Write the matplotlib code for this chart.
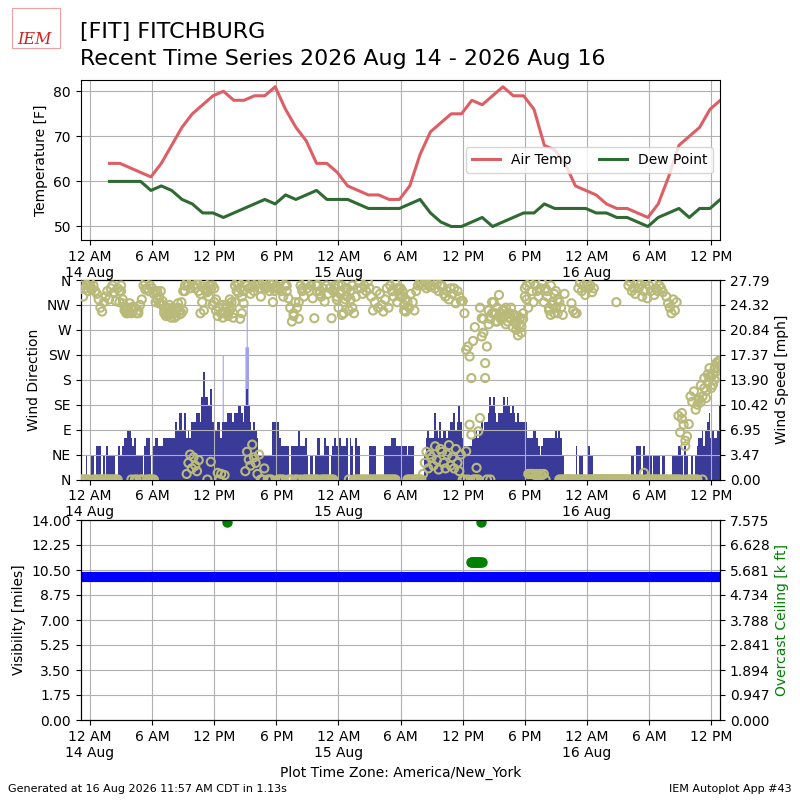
import matplotlib
matplotlib.use("Agg")
import matplotlib.pyplot as plt
import matplotlib.dates as mdates
import matplotlib.ticker as mticker
from matplotlib.patches import Rectangle
import numpy as np
import pandas as pd

# ---------------- data ----------------
temp_start = "2026-08-14 01:53"          # hourly observations
temp_f = [64, 64, 63, 62, 61, 64, 68, 72, 75, 77, 79, 80, 78, 78, 79, 79, 81, 76, 72, 69,
          64, 64, 62, 59, 58, 57, 57, 56, 56, 59, 66, 71, 73, 75, 75, 78, 77, 79, 81, 79,
          79, 76, 68, 67, 64, 59, 58, 57, 55, 54, 54, 53, 52, 55, 61, 68, 70, 72, 76, 78]
dewp_f = [60, 60, 60, 60, 58, 59, 58, 56, 55, 53, 53, 52, 53, 54, 55, 56, 55, 57, 56, 57,
          58, 56, 56, 56, 55, 54, 54, 54, 54, 55, 56, 53, 51, 50, 50, 51, 52, 50, 51, 52,
          53, 53, 55, 54, 54, 54, 54, 53, 53, 52, 52, 51, 50, 52, 53, 54, 52, 54, 54, 56]

wind_start = "2026-08-13 23:10"          # 10-minute samples
speed_kt = [
    3, 0, 0, 3, 0,
    0, 3, 3, 0, 4, 4,   4, 0, 3, 0, 4, 3,   3, 3, 3, 0, 0, 4,   3, 4, 5, 5, 6, 6,
    5, 4, 5, 3, 3, 3,   3, 0, 4, 5, 5, 3,   0, 4, 5, 5, 4, 4,   4, 5, 5, 5, 5, 5,
    5, 5, 7, 6, 8, 8,   6, 8, 5, 6, 5, 7,   7, 7, 8, 8, 7, 10,  13, 10, 10, 9, 11, 7,
    7, 6, 7, 7, 5, 7,   7, 7, 8, 8, 8, 7,   8, 8, 9, 9, 8, 7,   9, 11, 9, 7, 6, 7,
    6, 5, 3, 3, 3, 3,   3, 3, 3, 3, 7, 7,   6, 7, 5, 4, 4, 4,   4, 4, 0, 4, 4, 4,
    4, 6, 4, 4, 4, 5,   3, 0, 3, 3, 0, 3,   5, 5, 3, 3, 5, 4,   4, 0, 3, 4, 5, 4,
    4, 5, 4, 4, 4, 5,   0, 5, 4, 0, 5, 4,   4, 0, 0, 0, 0, 0,   4, 4, 4, 4, 0, 0,
    0, 0, 0, 4, 4, 4,   4, 5, 5, 5, 4, 4,   4, 4, 4, 4, 3, 4,   4, 4, 0, 0, 0, 0,
    0, 0, 3, 5, 6, 5,   5, 5, 8, 6, 5, 7,   5, 6, 6, 5, 6, 7,   7, 8, 6, 7, 9, 7,
    5, 4, 4, 4, 4, 4,   5, 5, 6, 5, 6, 7,   6, 7, 7, 8, 10, 9,  10, 8, 7, 8, 8, 8,
    10, 9, 10, 9, 8, 9, 8, 7, 8, 7, 7, 7,   7, 7, 5, 5, 5, 6,   6, 5, 4, 3, 4, 5,
    5, 5, 5, 5, 5, 5,   6, 5, 6, 5, 3, 0,   0, 0, 0, 0, 0, 0,   4, 0, 3, 3, 0, 0,
    0, 4, 3, 3, 0, 0,   0, 0, 0, 0, 0, 0,   0, 0, 0, 0, 0, 0,   0, 0, 0, 0, 0, 0,
    0, 0, 3, 3, 0, 4,   4, 4, 0, 4, 3, 3,   3, 3, 0, 3, 3, 3,   3, 0, 3, 3, 0, 0,
    0, 0, 3, 3, 3, 4,   4, 3, 0, 4, 3, 0,   0, 3, 0, 3, 4, 5,   5, 6, 4, 6, 7, 8,
    5, 6, 5, 5, 6, 9,
]
drct_a = [
    350, 330, 345, 352, 340,
    348, 342, 350, 340, 335, 325,  310, 303, 320, 330, 340, 325,  345, 350, 338, 322, 345, 340,
    340, 318, 305, 300, 310, 302,  300, 305, 310, 300, 305, 315,  325, 350, 355, 345, 340, 350,
    345, 335, 320, 340, 330, 318,  315, 305, 295, 310, 300, 292,  300, 292, 305, 310, 298, 320,
    305, 340, 355, 350, 345, 357,  350, 345, 352, 340, 335, 348,  355, 345, 338, 350, 343, 315,
    320, 305, 295, 310, 300, 292,  300, 310, 295, 305, 320, 300,  350, 340, 355, 345, 330, 340,
    355, 350, 345, 335, 350, 340,  350, 355, 345, 330, 357, 348,  355, 348, 340, 352, 320, 345,
    350, 345, 355, 340, 330, 350,  340, 327, 310, 285, 300, 320,  310, 290, 350, 345, 330, 355,
    345, 340, 350, 327, 291, 350,  351, 340, 330, 345, 321, 350,  335, 345, 291, 340, 350, 330,
    351, 340, 297, 320, 345, 330,  305, 340, 350, 300, 330, 345,  355, 345, 335, 350, 340, 357,
    345, 330, 305, 320, 340, 310,  335, 315, 303, 325, 345, 310,  350, 340, 330, 355, 345, 335,
    345, 330, 315, 303, 320, 310,  335, 320, 305, 340, 350, 355,  355, 350, 357, 345, 352, 348,
    350, 357, 345, 354, 340, 350,  350, 335, 330, 340, 325, 345,  335, 345, 318, 340, 330, 322,
    322, 300, 234, 240, 222, 183,  250, 275, 21, 87, 111, 291,    290, 183, 240, 305, 290, 320,
    300, 285, 310, 295, 290, 305,  295, 310, 285, 300, 290, 275,  285, 270, 295, 280, 265, 290,
    330, 350, 310, 354, 340, 320,  350, 340, 330, 345, 355, 320,  345, 330, 310, 297, 320, 335,
    340, 300, 320, 310, 297, 335,  0, 0, 0, 318, 305, 300,        300, 345, 355, 340, 350, 333,
    355, 345, 350, 338, 345, 0,    0, 0, 0, 0, 0, 0,              0, 0, 0, 0, 0, 320,
    0, 0, 0, 0, 0, 0,              350, 357, 340, 345, 335, 355,  345, 352, 330, 340, 357, 327,
    350, 340, 355, 333, 345, 340,  350, 345, 338, 0, 330, 318,    310, 300, 325, 305, 320, 115,
    85, 120, 99, 60, 78, 100,      150, 140, 159, 126, 135, 144,  170, 150, 183, 160, 175, 201,
    185, 171, 201, 195, 213, 205,
]
drct_b = [
    0, 0, 0, 0, 0,
    355, 345, 0, 0, 0, 0,          0, 0, 0, 0, 0, 0,              0, 0, 0, 0, 0, 320,
    350, 325, 312, 306, 300, 318,  0, 312, 0, 0, 300, 0,          0, 0, 343, 0, 0, 0,
    0, 0, 338, 325, 318, 340,      322, 300, 308, 296, 315, 305,  310, 300, 295, 318, 305, 300,
    340, 350, 10, 30, 45, 20,      40, 25, 15, 35, 300, 320,      305, 340, 0, 330, 32, 350,
    345, 325, 12, 0, 10, 315,      8, 315, 300, 325, 310, 292,    320, 355, 337, 290, 300, 318,
    15, 50, 36, 25, 63, 40,        30, 10, 45, 0, 0, 20,          345, 0, 0, 0, 355, 340,
    345, 0, 0, 0, 0, 350,          350, 0, 0, 0, 295, 0,          0, 320, 0, 340, 0, 0,
    0, 0, 0, 0, 0, 0,              0, 335, 0, 0, 0, 0,            0, 0, 0, 0, 345, 325,
    310, 335, 350, 300, 325, 345,  0, 325, 310, 0, 0, 0,          0, 0, 0, 0, 0, 0,
    0, 0, 0, 0, 0, 0,              0, 0, 0, 0, 0, 0,              0, 0, 0, 0, 320, 345,
    330, 340, 305, 325, 0, 0,      0, 0, 0, 0, 0, 0,              0, 10, 30, 50, 20, 45,
    40, 25, 60, 35, 18, 55,        50, 30, 20, 45, 62, 25,        40, 20, 55, 30, 15, 45,
    0, 0, 51, 0, 99, 81,           0, 0, 0, 0, 310, 258,          265, 210, 0, 280, 0, 300,
    320, 300, 285, 333, 300, 290,  305, 280, 300, 292, 310, 298,  297, 280, 260, 290, 275, 300,
    345, 325, 10, 10, 10, 10,      8, 10, 8, 10, 8, 10,           0, 340, 305, 350, 315, 300,
    310, 325, 0, 0, 0, 0,          0, 0, 0, 0, 0, 0,              0, 0, 0, 0, 0, 0,
    0, 0, 0, 0, 0, 0,              0, 0, 0, 0, 0, 0,              0, 0, 0, 0, 0, 0,
    0, 0, 0, 0, 0, 0,              0, 0, 0, 0, 0, 0,              0, 0, 0, 12, 0, 0,
    0, 0, 0, 0, 0, 0,              0, 0, 0, 0, 0, 0,              0, 0, 0, 0, 0, 0,
    0, 110, 0, 70, 0, 0,           0, 0, 0, 0, 0, 145,            140, 0, 165, 147, 190, 185,
    165, 190, 180, 210, 201, 215,
]
gust_time = ["2026-08-14 12:52", "2026-08-14 15:04", "2026-08-14 15:08",
             "2026-08-14 15:11", "2026-08-14 15:14", "2026-08-14 15:18"]
gust_kt = [15, 16, 16, 21, 16, 16]

vis_miles = [10.0, 10.0, 10.0, 10.0, 10.0, 10.0, 10.0, 10.0, 10.0, 10.0, 10.0, 10.0, 10.0,
             10.0, 10.0, 10.0, 10.0, 10.0, 10.0, 10.0, 10.0, 10.0, 10.0, 10.0, 10.0, 10.0,
             10.0, 10.0, 10.0, 10.0, 10.0, 10.0, 10.0, 10.0, 10.0, 10.0, 10.0, 10.0, 10.0,
             10.0, 10.0, 10.0, 10.0, 10.0, 10.0, 10.0, 10.0, 10.0, 10.0, 10.0, 10.0, 10.0,
             10.0, 10.0, 10.0, 10.0, 10.0, 10.0, 10.0, 10.0, 10.0, 10.0]
ceil_time = ["2026-08-14 13:13", "2026-08-15 12:48", "2026-08-15 12:54", "2026-08-15 13:00",
             "2026-08-15 13:06", "2026-08-15 13:12", "2026-08-15 13:18", "2026-08-15 13:24",
             "2026-08-15 13:30", "2026-08-15 13:36", "2026-08-15 13:42", "2026-08-15 13:50",
             "2026-08-15 13:45"]
ceil_kft = [7.5, 6.0, 6.0, 6.0, 6.0, 6.0, 6.0, 6.0, 6.0, 6.0, 6.0, 6.0, 7.5]

dir_labels = ["N", "NE", "E", "SE", "S", "SW", "W", "NW", "N"]

# ---------------- derived ----------------
KT2MPH = 1.15078
t_temp = pd.date_range(temp_start, periods=len(temp_f), freq="h")
t_wind = pd.date_range(wind_start, periods=len(speed_kt), freq="10min")
speed_mph = np.array(speed_kt) * KT2MPH
gust_mph = np.array(gust_kt) * KT2MPH
t_gust = pd.to_datetime(gust_time)
t_ceil = pd.to_datetime(ceil_time)
xmin = pd.Timestamp("2026-08-13 23:06")
xmax = pd.Timestamp("2026-08-16 12:51")
t_vis = pd.date_range(xmin, xmax, periods=len(vis_miles))

# ---------------- figure ----------------
fig = plt.figure(figsize=(8, 8), dpi=100)
L, W = 80.7 / 800, (720 - 80.7) / 800
ax_t = fig.add_axes([L, 0.70, W, 0.20])
ax_w = fig.add_axes([L, 1 - 479.5 / 800, W, 199.5 / 800])
ax_v = fig.add_axes([L, 0.10, W, 0.25])


def xfmt(x, pos=None):
    d = mdates.num2date(x)
    h12 = d.hour % 12 or 12
    lab = "%d %s" % (h12, "AM" if d.hour < 12 else "PM")
    if d.hour == 0:
        lab += "\n%d %s" % (d.day, d.strftime("%b"))
    return lab


for ax in (ax_t, ax_w, ax_v):
    ax.set_xlim(xmin, xmax)
    ax.xaxis.set_major_locator(mdates.HourLocator(byhour=[0, 6, 12, 18]))
    ax.xaxis.set_major_formatter(mticker.FuncFormatter(xfmt))
    ax.grid(True)

# temperature panel
ax_t.plot(t_temp, temp_f, color="#dd5f66", lw=2.2, label="Air Temp")
ax_t.plot(t_temp, dewp_f, color="#2f6a32", lw=2.2, label="Dew Point")
ax_t.set_ylim(47, 82.5)
ax_t.set_yticks([50, 60, 70, 80])
ax_t.set_ylabel("Temperature [F]")
ax_t.legend(loc="center right", ncol=2)

# wind panel
ax_ws = ax_w.twinx()
ax_ws.patch.set_visible(True)
ax_ws.patch.set_facecolor("white")
ax_ws.bar(t_gust, gust_mph, width=6 / 1440, color="#9c9cf4", linewidth=0,
          snap=False)
ax_ws.bar(t_wind, speed_mph, width=10 / 1440, color="#3a3a99", linewidth=0)
ymax = gust_mph.max() * 1.15
ax_ws.set_ylim(0, ymax)
ax_ws.set_yticks(np.linspace(0, ymax, 9))
ax_ws.yaxis.set_major_formatter(mticker.FormatStrFormatter("%.2f"))
ax_ws.set_ylabel("Wind Speed [mph]")
ax_w.set_zorder(ax_ws.get_zorder() + 1)
ax_w.patch.set_visible(False)
olive = "#b9ba7a"
ax_w.scatter(t_wind, drct_a, s=34, facecolors="none", edgecolors=olive,
             linewidths=1.5, zorder=3)
ax_w.scatter(t_wind, drct_b, s=34, facecolors="none", edgecolors=olive,
             linewidths=1.5, zorder=3)
ax_w.set_ylim(0, 360)
ax_w.set_yticks(np.arange(0, 361, 45))
ax_w.set_yticklabels(dir_labels)
ax_w.set_ylabel("Wind Direction")

# visibility panel
ax_v.plot(t_vis, vis_miles, color="blue", lw=7.3, solid_capstyle="butt")
ax_v.set_ylim(0, 14)
ax_v.set_yticks(np.linspace(0, 14, 9))
ax_v.yaxis.set_major_formatter(mticker.FormatStrFormatter("%.2f"))
ax_v.set_ylabel("Visibility [miles]")
ax_v.set_xlabel("Plot Time Zone: America/New_York")
ax_c = ax_v.twinx()
ax_c.plot(t_ceil, ceil_kft, "o", color="green", ms=6.5, linestyle="none")
cmax = max(ceil_kft) * 1.01
ax_c.set_ylim(0, cmax)
ax_c.set_yticks(np.linspace(0, cmax, 9))
ax_c.yaxis.set_major_formatter(mticker.FormatStrFormatter("%.3f"))
ax_c.set_ylabel("Overcast Ceiling [k ft]", color="green")
ax_c.set_xlim(xmin, xmax)

# titles and footer
fig.text(0.1, 1 - 38 / 800, "[FIT] FITCHBURG", fontsize=16, va="baseline")
fig.text(0.1, 1 - 65 / 800, "Recent Time Series 2026 Aug 14 - 2026 Aug 16",
         fontsize=15.9, va="baseline")
fig.patches.append(Rectangle((12 / 800, 1 - 48 / 800), 48 / 800, 40 / 800,
                             transform=fig.transFigure, fill=False,
                             edgecolor="#f0a0a0", lw=0.8))
fig.text(34 / 800, 1 - 44 / 800, "IEM", color="#d42020", fontsize=11.5,
         fontstyle="italic", family="DejaVu Serif", ha="center", va="baseline")
fig.text(8 / 800, 0.01, "Generated at 16 Aug 2026 11:57 AM CDT in 1.13s",
         fontsize=8, va="baseline")
fig.text(0.99, 0.01, "IEM Autoplot App #43", fontsize=8, ha="right",
         va="baseline")

fig.savefig("out.png", dpi=100)
